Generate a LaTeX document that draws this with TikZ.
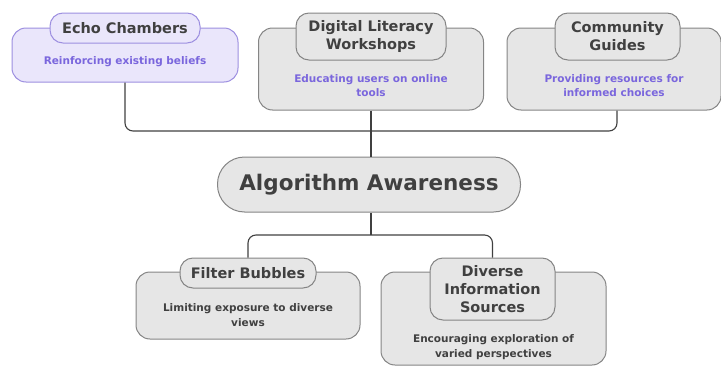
\documentclass[tikz,border=0pt]{standalone}
\usepackage{fontspec}
\setmainfont{DejaVu Sans}
\usetikzlibrary{positioning}

\definecolor{boxgray}{HTML}{E6E6E6}
\definecolor{edgegray}{HTML}{858585}
\definecolor{inkgray}{HTML}{404040}
\definecolor{lilacfill}{HTML}{EAE6FB}
\definecolor{lilacedge}{HTML}{9D8FE0}
\definecolor{lilacink}{HTML}{7A66DD}

\begin{document}
\begin{tikzpicture}[x=1pt, y=-1pt]
	\tikzset {card/.style={draw=edgegray, fill=boxgray, line width=1pt, rounded corners=14pt, inner sep=0pt},
		pill/.style={draw=edgegray, fill=boxgray, line width=1pt, rounded corners=13pt, inner sep=0pt, align=center, font=\bfseries\fontsize{14.5}{18}\selectfont, text=inkgray},
		desc/.style={align=center, font=\bfseries\fontsize{10.5}{14.5}\selectfont, text=inkgray},
		link/.style={draw=inkgray, line width=1.1pt, rounded corners=8pt} }
	\useasboundingbox (0,0) rectangle (721,367);

	% upper row
	\node[card, draw=lilacedge, fill=lilacfill, minimum width=226pt, minimum height=54pt] (echo) at (125,55) {};
	\node[desc, text=lilacink] (echod) at (125,62) {Reinforcing existing beliefs};
	\node[pill, draw=lilacedge, fill=lilacfill, minimum width=150pt, minimum height=30pt] (echot) at (125,28) {Echo Chambers};

	\node[card, minimum width=225pt, minimum height=82pt] (lit) at (371,69) {};
	\node[desc, text=lilacink] (litd) at (371,85.5) {Educating users on online\\tools};
	\node[pill, minimum width=150pt, minimum height=47pt] (litt) at (371,36.5) {Digital Literacy\\Workshops};

	\node[card, minimum width=214pt, minimum height=82pt] (guide) at (614,69) {};
	\node[desc, text=lilacink] (guided) at (614,85.5) {Providing resources for\\informed choices};
	\node[pill, minimum width=125pt, minimum height=47pt] (guidet) at (617.5,36.5) {Community\\Guides};

	% centre
	\node[pill, rounded corners=27pt, minimum width=303pt, minimum height=55pt, font=\bfseries\fontsize{21.5}{26}\selectfont] (aware) at (369,184.5) {Algorithm Awareness};

	% lower row
	\node[card, minimum width=224pt, minimum height=67pt] (bub) at (248,305.5) {};
	\node[desc] (bubd) at (248,315) {Limiting exposure to diverse\\views};
	\node[pill, minimum width=136pt, minimum height=30pt] (bubt) at (248,273) {Filter Bubbles};

	\node[card, minimum width=225pt, minimum height=93pt] (src) at (493.5,318.5) {};
	\node[desc] (srcd) at (493.5,347) {Encouraging exploration of\\varied perspectives};
	\node[pill, minimum width=125pt, minimum height=62pt] (srct) at (492.5,289) {Diverse\\Information\\Sources};

	\coordinate (up) at (371,131);
	\coordinate (down) at (371,235);

	\draw[link] (echo.south) |- (up) -| ([xshift=3pt]guide.south);
	\draw[link] (lit.south) -- (aware.north -| lit.south);
	\draw[link] (aware.south -| down) -- (down);
	\draw[link] (bubt.north) |- (down) -| (srct.north);
\end{tikzpicture}
\end{document}
